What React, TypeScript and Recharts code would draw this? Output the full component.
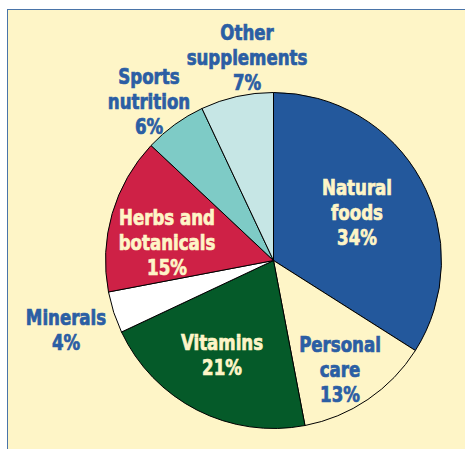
import { PieChart, Pie, Cell } from 'recharts'

const categories = ['Natural foods', 'Personal care', 'Vitamins', 'Minerals', 'Herbs and botanicals', 'Sports nutrition', 'Other supplements']
const shares = [34, 13, 21, 4, 15, 6, 7]
const labelLines = [
  ['Natural', 'foods'],
  ['Personal', 'care'],
  ['Vitamins'],
  ['Minerals'],
  ['Herbs and', 'botanicals'],
  ['Sports', 'nutrition'],
  ['Other', 'supplements'],
]

const colors = ['#23589c', '#fef5c7', '#055a29', '#ffffff', '#ce2146', '#7ecbc6', '#c6e6e5']
const textColors = ['#fef5c7', '#2b5ea4', '#fef5c7', '#2b5ea4', '#fef5c7', '#2b5ea4', '#2b5ea4']
// label centre offsets from the pie centre
const labelOffsets = [
  [83.5, -47.5],
  [66.5, 109.5],
  [-51.5, 95],
  [-207.5, 70],
  [-106.5, -17.5],
  [-124.5, -158.5],
  [-26.5, -202.5],
]

const data = categories.map((name, i) => ({ name, value: shares[i] }))

const FONT = '"DejaVu Sans Condensed", "Roboto", sans-serif'

// eslint-disable-next-line @typescript-eslint/no-explicit-any
const renderLabel = (props: any) => {
  const { cx, cy, index, value } = props
  const lines = [...labelLines[index], `${value}%`]
  const [dx, dy] = labelOffsets[index]
  const x = cx + dx
  const top = cy + dy - ((lines.length - 1) * 25) / 2
  return (
    <g transform={`translate(${x},0) scale(0.88,1)`}>
      {lines.map((l, i) => (
        <text
          key={i}
          x={0}
          y={top + i * 25 + 7.5}
          textAnchor="middle"
          fill={textColors[index]}
          stroke={textColors[index]}
          strokeWidth={0.7}
          style={{ fontFamily: FONT, fontWeight: 700, fontSize: 21 }}
        >
          {l}
        </text>
      ))}
    </g>
  )
}

export default function App() {
  return (
    <div
      style={{
        position: 'fixed',
        left: 7,
        top: 9,
        width: 458,
        height: 440,
        boxSizing: 'border-box',
        background: '#fef5c7',
        borderLeft: '1px solid #4a74a8',
        borderTop: '1px solid #4a74a8',
      }}
    >
      <PieChart width={457} height={439}>
        <Pie
          data={data}
          dataKey="value"
          cx={260.5}
          cy={245.5}
          outerRadius={168}
          startAngle={90}
          endAngle={-270}
          stroke="#000"
          strokeWidth={1}
          label={renderLabel}
          labelLine={false}
          isAnimationActive={false}
        >
          {data.map((d, i) => (
            <Cell key={d.name} fill={colors[i]} />
          ))}
        </Pie>
      </PieChart>
    </div>
  )
}
